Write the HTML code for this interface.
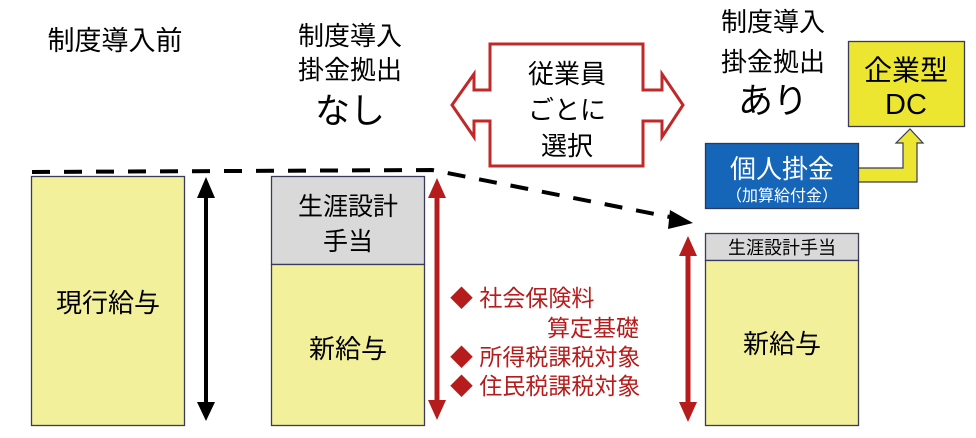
<!DOCTYPE html>
<html><head><meta charset="utf-8"><style>
html,body{margin:0;padding:0;background:#fff;}
svg{display:block;}
text{font-family:"Liberation Sans","Noto Sans CJK JP",sans-serif;}
</style></head><body>
<svg width="976" height="438" viewBox="0 0 976 438" xmlns="http://www.w3.org/2000/svg">
<!-- titles -->
<text x="115" y="50" font-size="27" text-anchor="middle">制度導入前</text>
<text x="350" y="45" font-size="26" text-anchor="middle">制度導入</text>
<text x="350" y="79" font-size="26" text-anchor="middle">掛金拠出</text>
<text x="350" y="123" font-size="35" text-anchor="middle">なし</text>
<text x="773" y="31" font-size="26" text-anchor="middle">制度導入</text>
<text x="773" y="71" font-size="26" text-anchor="middle">掛金拠出</text>
<text x="773" y="113" font-size="35" text-anchor="middle">あり</text>

<!-- dashed line -->
<polyline points="32,172 432,170 680,219" fill="none" stroke="#000" stroke-width="4" stroke-dasharray="18,14"/>
<path d="M670,210 L693,223 L668,229 z" fill="#000"/>

<!-- col1 -->
<rect x="31.5" y="176.5" width="153" height="249" fill="#f3f09b" stroke="#3a3a5a" stroke-width="1.3"/>
<text x="108" y="312" font-size="26" text-anchor="middle">現行給与</text>
<line x1="206" y1="195" x2="206" y2="405" stroke="#000" stroke-width="4"/>
<path d="M197,198 L206,177 L215,198 z M197,402 L206,421 L215,402 z" fill="#000"/>

<!-- col2 -->
<rect x="271.5" y="176.5" width="153" height="88" fill="#d9d9d9" stroke="#3a3a5a" stroke-width="1.3"/>
<text x="348" y="215" font-size="25" text-anchor="middle">生涯設計</text>
<text x="348" y="250" font-size="25" text-anchor="middle">手当</text>
<rect x="271.5" y="264.5" width="153" height="161" fill="#f3f09b" stroke="#3a3a5a" stroke-width="1.3"/>
<text x="348" y="358" font-size="26" text-anchor="middle">新給与</text>
<line x1="437" y1="196" x2="437" y2="402" stroke="#b71c1c" stroke-width="5"/>
<path d="M428,198 L437,178 L446,198 z M428,400 L437,420 L446,400 z" fill="#b71c1c"/>

<!-- red text -->
<g fill="#b71c1c" font-size="23">
<text x="450" y="306">◆ 社会保険料</text>
<text x="547" y="336">算定基礎</text>
<text x="450" y="365">◆ 所得税課税対象</text>
<text x="450" y="394">◆ 住民税課税対象</text>
</g>
<line x1="688" y1="254" x2="688" y2="403" stroke="#b71c1c" stroke-width="5"/>
<path d="M679,256 L688,236 L697,256 z M679,402 L688,422 L697,402 z" fill="#b71c1c"/>

<!-- double arrow -->
<path d="M490,44 L643,44 L643,90 L662,90 L662,74 L683,105 L662,137 L662,121 L643,121 L643,166 L490,166 L490,121 L474,121 L474,137 L452,105 L474,74 L474,90 L490,90 Z" fill="#fff" stroke="#c0282a" stroke-width="3"/>
<text x="567" y="83" font-size="26" text-anchor="middle">従業員</text>
<text x="567" y="119" font-size="26" text-anchor="middle">ごとに</text>
<text x="567" y="155" font-size="26" text-anchor="middle">選択</text>

<!-- col3 -->
<rect x="705.5" y="233.5" width="153" height="27" fill="#d9d9d9" stroke="#3a3a5a" stroke-width="1.3"/>
<text x="782" y="254" font-size="18" text-anchor="middle">生涯設計手当</text>
<rect x="705.5" y="260.5" width="153" height="165" fill="#f3f09b" stroke="#3a3a5a" stroke-width="1.3"/>
<text x="782" y="353" font-size="26" text-anchor="middle">新給与</text>

<!-- yellow arrow -->
<path d="M858,168 L903,168 L903,143 L896,143 L910,129 L923,143 L917,143 L917,182 L858,182 Z" fill="#ece630" stroke="#3a3a5a" stroke-width="1.2"/>
<rect x="705.5" y="143.5" width="153" height="65" fill="#1565b8" stroke="#2a3a5a" stroke-width="1.3"/>
<text x="782" y="178" font-size="26" text-anchor="middle" fill="#fff">個人掛金</text>
<text x="782" y="201" font-size="16" text-anchor="middle" fill="#fff">（加算給付金）</text>
<rect x="848.5" y="41.5" width="116" height="85" fill="#ece630" stroke="#3a3a5a" stroke-width="1.3"/>
<text x="906" y="80" font-size="28" text-anchor="middle">企業型</text>
<text x="906" y="114" font-size="29" text-anchor="middle">DC</text>
</svg>
</body></html>
